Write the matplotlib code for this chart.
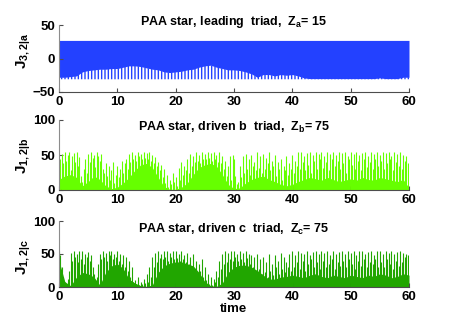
import numpy as np
import matplotlib
matplotlib.use("Agg")
from matplotlib import pyplot as plt

plt.rcParams['font.family'] = ['Liberation Sans', 'DejaVu Sans']
plt.rcParams['font.weight'] = 'bold'
plt.rcParams['mathtext.fontset'] = 'custom'
plt.rcParams['mathtext.rm'] = 'Liberation Sans:bold'
plt.rcParams['mathtext.it'] = 'Liberation Sans:bold'
plt.rcParams['mathtext.bf'] = 'Liberation Sans:bold'
plt.rcParams['hatch.linewidth'] = 1.0

# panel a: leading triad, envelope read at integer times
t_a = np.arange(0, 61, 1)
top_a = [27] * 61
floor_a = [-31] * 61
lo_a = [-28, -28, -27, -26, -20, -18, -17, -16, -16, -15,
        -15, -13, -11, -11, -12, -14, -16, -17, -20, -21,
        -20, -19, -17, -16, -13, -11, -10, -13, -15, -17,
        -17, -18, -20, -23, -28, -24, -24, -26, -24, -25,
        -24, -26, -29, -30, -30, -30, -30, -30, -30, -30,
        -30, -30, -30, -30, -30, -29, -30, -30, -30, -28,
        -28]

# panels b and c: spike peaks every 0.25, solid part every 1.0
t_peak = np.arange(0, 60.25, 0.25)
t_base = np.arange(0, 61, 1)

peak_b = [30, 45, 52, 38, 55, 42, 50, 54, 28, 48, 53, 40, 55, 35, 47, 20, 12, 30, 45, 25,
          52, 40, 55, 46, 50, 33, 54, 48, 42, 52, 30, 25, 38, 20, 35, 15, 28, 40, 10, 22,
          35, 18, 30, 42, 25, 38, 45, 30, 52, 40, 55, 45, 50, 42, 54, 48, 52, 44, 55, 46,
          53, 45, 55, 42, 50, 38, 47, 35, 40, 28, 36, 18, 30, 10, 22, 5, 15, 8, 25, 12,
          18, 6, 32, 15, 40, 22, 35, 28, 45, 25, 52, 35, 48, 40, 55, 42, 50, 38, 54, 45,
          52, 44, 55, 46, 53, 42, 55, 45, 50, 40, 54, 38, 48, 30, 42, 20, 35, 48, 15, 50,
          45, 20, 8, 12, 35, 18, 48, 25, 52, 30, 45, 22, 50, 35, 40, 28, 54, 32, 48, 25,
          52, 30, 46, 38, 55, 28, 42, 35, 50, 20, 40, 30, 45, 15, 35, 28, 48, 22, 38, 30,
          50, 25, 42, 35, 54, 30, 55, 40, 48, 28, 53, 36, 55, 25, 50, 42, 54, 30, 52, 45,
          55, 32, 48, 40, 54, 28, 52, 45, 55, 35, 50, 42, 54, 30, 53, 38, 55, 25, 48, 44,
          54, 36, 52, 30, 55, 42, 50, 28, 53, 45, 55, 33, 48, 40, 54, 30, 52, 44, 55, 35,
          50, 42, 55, 30, 53, 38, 54, 45, 48, 28, 55, 40, 52, 35, 54, 30, 50, 42, 48, 38,
          10]
base_b = [15, 20, 22, 18, 6, 12, 20, 15, 6, 2,
          4, 10, 18, 28, 36, 38, 32, 18, 5, 1,
          1, 4, 10, 22, 32, 36, 38, 34, 22, 8,
          2, 3, 10, 15, 18, 20, 15, 12, 8, 6,
          8, 12, 15, 18, 16, 14, 18, 15, 12, 14,
          16, 14, 18, 15, 14, 18, 16, 14, 12, 15,
          3]

peak_c = [55, 48, 30, 15, 8, 5, 12, 25, 52, 40, 55, 45, 50, 38, 54, 42, 55, 35, 50, 45,
          53, 40, 48, 30, 20, 10, 15, 35, 50, 42, 55, 45, 52, 40, 54, 48, 55, 42, 50, 45,
          54, 40, 50, 35, 48, 30, 45, 25, 40, 15, 30, 8, 10, 5, 15, 3, 8, 5, 12, 6,
          20, 8, 30, 15, 45, 30, 52, 38, 55, 44, 50, 42, 54, 46, 55, 40, 52, 45, 55, 42,
          54, 44, 50, 40, 55, 42, 48, 38, 52, 35, 45, 30, 50, 28, 40, 20, 35, 25, 42, 15,
          30, 10, 20, 5, 15, 3, 12, 8, 25, 15, 40, 28, 50, 35, 55, 38, 52, 42, 54, 40,
          55, 45, 50, 40, 54, 42, 52, 38, 55, 44, 50, 35, 48, 30, 45, 25, 50, 28, 42, 20,
          45, 22, 38, 15, 50, 25, 35, 18, 48, 30, 40, 20, 52, 28, 45, 22, 38, 30, 50, 25,
          55, 30, 48, 38, 54, 28, 52, 40, 50, 25, 55, 35, 48, 42, 53, 30, 55, 38, 50, 28,
          54, 40, 52, 30, 55, 35, 48, 42, 55, 28, 50, 38, 53, 32, 55, 40, 50, 30, 54, 42,
          52, 35, 55, 28, 48, 40, 54, 32, 55, 42, 50, 30, 53, 38, 55, 35, 48, 42, 54, 30,
          55, 38, 50, 30, 54, 42, 52, 35, 55, 28, 50, 40, 53, 32, 55, 38, 52, 45, 50, 48,
          45]
base_c = [40, 8, 2, 15, 22, 20, 15, 3, 22, 32,
          35, 28, 12, 6, 2, 1, 3, 22, 32, 36,
          38, 38, 35, 32, 22, 8, 2, 1, 6, 22,
          30, 33, 33, 30, 25, 18, 12, 12, 15, 16,
          18, 16, 14, 18, 20, 16, 14, 18, 16, 14,
          18, 16, 14, 18, 16, 20, 18, 14, 16, 20,
          18]

blue = '#2341ff'
lime = '#66ff00'
green = '#21a600'

W, H = 452, 322
fig = plt.figure(figsize=(W / 100, H / 100), dpi=100)

def px_axes(top, bottom):
    return fig.add_axes([59 / W, 1 - bottom / H, 350 / W, (bottom - top) / H])

def style(ax, ylim, yticks):
    ax.set_xlim(0, 60)
    ax.set_ylim(*ylim)
    ax.set_xticks(range(0, 61, 10))
    ax.set_yticks(yticks)
    ax.spines['top'].set_visible(False)
    ax.spines['right'].set_visible(False)
    ax.spines['left'].set_color('0.55')
    ax.spines['bottom'].set_color('0.3')
    ax.spines['left'].set_linewidth(0.8)
    ax.spines['bottom'].set_linewidth(0.8)
    ax.tick_params(direction='in', length=3, width=0.8, color='0.3',
                   labelsize=9.5, pad=3)
    for lab in ax.get_xticklabels() + ax.get_yticklabels():
        lab.set_fontweight('bold')

# panel a
ax1 = px_axes(25, 92)
ax1.fill_between(t_a, lo_a, top_a, color=blue, linewidth=0)
ax1.fill_between(t_a, floor_a, lo_a, facecolor='none', edgecolor=blue,
                 hatch='|||||', linewidth=0)
style(ax1, (-50, 50), [-50, 0, 50])

# panel b
ax2 = px_axes(120, 190)
ax2.fill_between(t_base, 0, base_b, color=lime, linewidth=0)
ax2.vlines(t_peak, 0, peak_b, color=lime, linewidth=0.8)
style(ax2, (0, 100), [0, 50, 100])

# panel c
ax3 = px_axes(221, 287)
ax3.fill_between(t_base, 0, base_c, color=green, linewidth=0)
ax3.vlines(t_peak, 0, peak_c, color=green, linewidth=0.8)
style(ax3, (0, 100), [0, 50, 100])
ax3.set_xlabel('time', fontsize=9.5, fontweight='bold', labelpad=0)

# titles and y labels placed in pixel coords
titles = [r'PAA star, leading  triad,  $Z_a$= 15',
          r'PAA star, driven b  triad,  $Z_b$= 75',
          r'PAA star, driven c  triad,  $Z_c$= 75']
title_y = [25, 131, 233]
for s, y in zip(titles, title_y):
    fig.text(234 / W, 1 - y / H, s, ha='center', va='baseline',
             fontsize=9, fontweight='bold')

ylabels = [r'$J_{3,2|a}$', r'$J_{1,2|b}$', r'$J_{1,2|c}$']
ylabel_y = [51, 156, 257]
for s, y in zip(ylabels, ylabel_y):
    fig.text(24 / W, 1 - y / H, s, ha='center', va='center', rotation=90,
             fontsize=11)

fig.savefig('out.png', dpi=100)
